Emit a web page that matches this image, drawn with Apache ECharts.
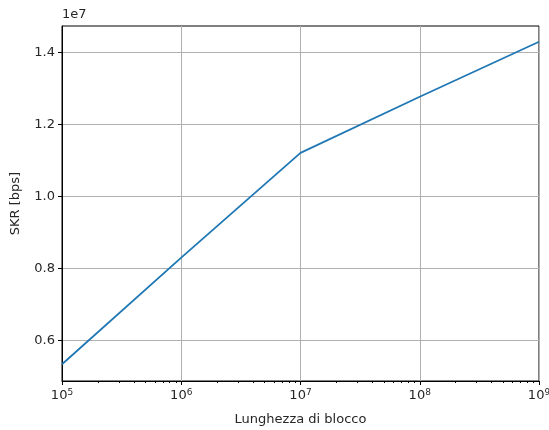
<!DOCTYPE html>
<html>
<head>
<meta charset="utf-8">
<script src="https://cdn.jsdelivr.net/npm/echarts@6/dist/echarts.min.js"></script>
<style>
  html, body { margin: 0; padding: 0; background: #fff; }
  #chart { width: 549px; height: 430px; }
</style>
</head>
<body>
<div id="chart"></div>
<script>
// block length (log scale) vs SKR
var blockLengths = [1e5, 1e6, 1e7, 1e8, 1e9];
var skrValues = [5.345e6, 8.305e6, 11.21e6, 12.766e6, 14.294e6];
var yTicks = [6e6, 8e6, 10e6, 12e6, 14e6];
var xTicks = [1e5, 1e6, 1e7, 1e8, 1e9];
var xMinorTicks = [];
for (var d = 1e5; d < 1e9; d *= 10) {
  for (var k = 2; k <= 9; k++) xMinorTicks.push(d * k);
}

var font = 'DejaVu Sans';

var myChart = echarts.init(document.getElementById('chart'));

var option = {
  animation: false,
  textStyle: { fontFamily: font },
  grid: {
    left: 62, right: 10, top: 26, bottom: 49,
    containLabel: false,
    outerBoundsMode: 'none',
    show: true, borderColor: '#000', borderWidth: 1, backgroundColor: 'transparent'
  },
  title: {
    text: '1e7',
    left: 62, top: 8, padding: 0,
    textStyle: { fontFamily: font, fontSize: 13, fontWeight: 'normal', color: '#262626' }
  },
  xAxis: [{
    type: 'log',
    logBase: 10,
    min: 1e5, max: 1e9,
    name: 'Lunghezza di blocco',
    nameLocation: 'middle',
    nameGap: 32,
    nameTextStyle: { fontSize: 13, color: '#262626' },
    axisLine: { show: true, lineStyle: { color: '#000', width: 1 } },
    axisTick: { show: true, length: 4, inside: false, lineStyle: { color: '#000' }, customValues: xTicks },
    axisLabel: {
      fontSize: 13, color: '#262626', margin: 7,
      customValues: xTicks,
      formatter: function (v) {
        var e = Math.round(Math.log10(v));
        return '10{s|' + String(e) + '}';
      },
      rich: { s: { fontSize: 9, verticalAlign: 'top', padding: [0, 0, 7, 0], color: '#262626' } }
    },
    splitLine: { show: true, lineStyle: { color: '#b0b0b0', width: 1 } },
    minorTick: { show: false }
  }, {
    type: 'log',
    logBase: 10,
    min: 1e5, max: 1e9,
    position: 'bottom',
    axisLine: { show: false },
    axisTick: { show: true, length: 2, lineStyle: { color: '#000' }, customValues: xMinorTicks },
    axisLabel: { show: false, customValues: xMinorTicks },
    splitLine: { show: false }
  }],
  yAxis: {
    type: 'value',
    min: 4.88e6, max: 14.73e6,
    name: 'SKR [bps]',
    nameLocation: 'middle',
    nameGap: 40,
    nameTextStyle: { fontSize: 13, color: '#262626' },
    axisLine: { show: true, lineStyle: { color: '#000', width: 1 } },
    axisTick: { show: true, length: 4, lineStyle: { color: '#000' }, customValues: yTicks },
    axisLabel: {
      fontSize: 13, color: '#262626', margin: 7,
      customValues: yTicks,
      formatter: function (v) { return (v / 1e7).toFixed(1); }
    },
    splitLine: { show: true, lineStyle: { color: '#b0b0b0', width: 1 } }
  },
  series: [{
    type: 'line',
    xAxisIndex: 0,
    data: blockLengths.map(function (x, i) { return [x, skrValues[i]]; }),
    showSymbol: false,
    lineStyle: { color: '#1f77b4', width: 1.8 },
    itemStyle: { color: '#1f77b4' }
  }]
};

myChart.setOption(option);
</script>
</body>
</html>
